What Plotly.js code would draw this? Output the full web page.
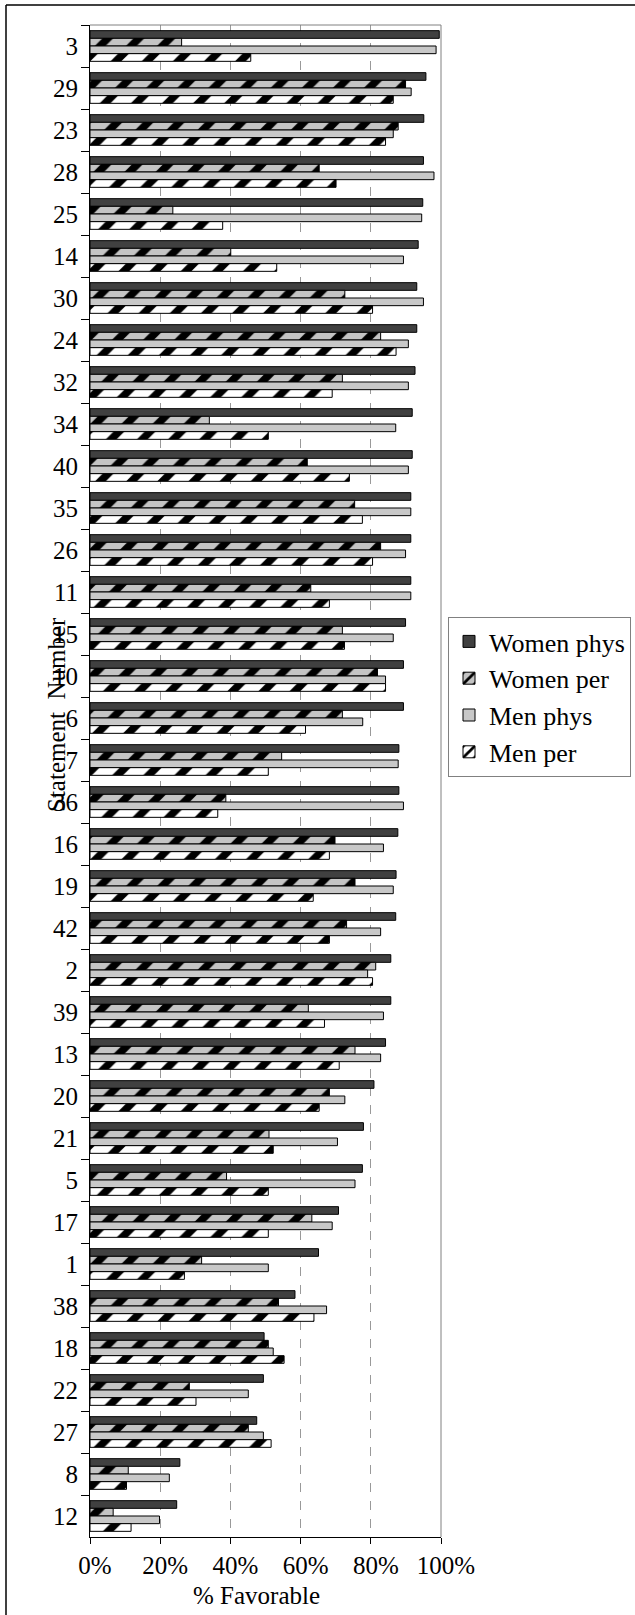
<!DOCTYPE html>
<html>
<head>
<meta charset="utf-8">
<script src="https://cdn.plot.ly/plotly-3.0.1.min.js"></script>
<style>html,body{margin:0;padding:0;background:#fff;}#chart{width:635px;height:1615px;}</style>
</head>
<body>
<div id="chart"></div>
<script>
const statements = ["3","29","23","28","25","14","30","24","32","34","40","35","26","11","15","10","6","7","36","16","19","42","2","39","13","20","21","5","17","1","38","18","22","27","8","12"];
const womenPhys = [99.5,95.7,95.1,95.0,94.8,93.5,93.1,93.1,92.6,91.8,91.8,91.4,91.4,91.4,89.9,89.3,89.3,88.0,88.0,87.7,87.2,87.1,85.7,85.7,84.2,80.9,77.9,77.6,70.8,65.1,58.4,49.6,49.4,47.5,25.6,24.7];
const womenPer  = [26.1,89.9,87.8,65.3,23.6,40.1,72.6,82.8,71.9,34.0,61.9,75.4,82.8,62.9,71.9,81.9,71.9,54.6,38.7,69.8,75.5,73.1,81.4,62.2,75.5,68.2,51.0,38.9,63.2,31.8,53.7,50.8,28.3,45.1,10.9,6.6];
const menPhys   = [98.6,91.5,86.4,98.0,94.5,89.3,95.0,90.7,90.7,87.1,90.7,91.4,89.9,91.4,86.4,84.2,77.7,87.8,89.3,83.6,86.4,82.8,79.1,83.6,82.8,72.6,70.5,75.5,69.0,50.8,67.4,52.2,45.1,49.4,22.6,19.8];
const menPer    = [45.8,86.4,84.2,70.1,37.8,53.2,80.5,87.2,69.0,50.8,73.9,77.6,80.5,68.2,72.5,84.2,61.4,50.8,36.4,68.2,63.6,68.2,80.5,66.8,71.0,65.3,52.2,50.8,50.8,26.9,63.8,55.3,30.2,51.6,10.4,11.7];
const seriesNames = ["Women phys","Women per","Men phys","Men per"];
const xTicks = [0,20,40,60,80,100];

const FONT = "Liberation Serif, Times New Roman, serif";
const outline = {color:"#000", width:1};
const traces = [
  {name:seriesNames[0], x:womenPhys, marker:{color:"#404040", line:outline}},
  {name:seriesNames[1], x:womenPer, marker:{color:"#c4c4c4", line:outline,
     pattern:{shape:"/", bgcolor:"#c4c4c4", fgcolor:"#000", size:22, solidity:0.35}}},
  {name:seriesNames[2], x:menPhys, marker:{color:"#c8c8c8", line:outline}},
  {name:seriesNames[3], x:menPer, marker:{color:"#ffffff", line:outline,
     pattern:{shape:"/", bgcolor:"#ffffff", fgcolor:"#000", size:22, solidity:0.35}}}
].map(t => Object.assign({type:"bar", orientation:"h", y:statements, hoverinfo:"x+name"}, t));

const px2x = p => (p-90)/351;
const py2y = p => (1537-p)/1512;

const layout = {
  width:635, height:1615,
  margin:{l:90, r:194, t:25, b:78},
  paper_bgcolor:"#fff", plot_bgcolor:"#fff",
  font:{family:FONT, size:25, color:"#000"},
  barmode:"group", bargap:0.27, bargroupgap:0,
  showlegend:true,
  legend:{xref:"container", yref:"container", x:448/635, y:1-617/1615, xanchor:"left", yanchor:"top",
          bordercolor:"#808080", borderwidth:1, bgcolor:"#fff", traceorder:"normal",
          font:{family:FONT, size:26, color:"#000"}, itemwidth:30},
  xaxis:{range:[0,100], tickvals:xTicks, ticktext:xTicks.map(v=>v+"%"), showgrid:true,
         gridcolor:"#999", griddash:"dash", gridwidth:1, zeroline:false,
         showline:true, linecolor:"#000", linewidth:1, ticks:"outside", ticklen:6, tickcolor:"#000",
         ticklabelshift:5, tickfont:{family:FONT, size:25}},
  yaxis:{type:"category", autorange:"reversed", showgrid:false, zeroline:false,
         showline:true, linecolor:"#000", linewidth:1, ticks:"outside", ticklen:8, tickcolor:"#000",
         tickson:"boundaries", ticklabelstandoff:6, tickfont:{family:FONT, size:25}},
  shapes:[
    {type:"line", xref:"paper", yref:"paper", x0:0, x1:1, y0:1, y1:1, line:{color:"#808080", width:1}},
    {type:"line", xref:"paper", yref:"paper", x0:1, x1:1, y0:0, y1:1, line:{color:"#808080", width:1}},
    {type:"line", xref:"paper", yref:"paper", x0:px2x(6), x1:px2x(6), y0:py2y(5), y1:py2y(1615), line:{color:"#000", width:1.5}},
    {type:"line", xref:"paper", yref:"paper", x0:px2x(6), x1:px2x(635), y0:py2y(5), y1:py2y(5), line:{color:"#000", width:1.5}}
  ],
  annotations:[
    {text:"Statement  Number", xref:"paper", yref:"paper", x:px2x(56), y:py2y(715), textangle:-90,
     showarrow:false, xanchor:"center", yanchor:"middle", font:{family:FONT, size:25, color:"#000"}},
    {text:"% Favorable", xref:"paper", yref:"paper", x:px2x(256), y:py2y(1595),
     showarrow:false, xanchor:"center", yanchor:"middle", font:{family:FONT, size:25, color:"#000"}}
  ]
};

Plotly.newPlot("chart", traces, layout, {staticPlot:true, displayModeBar:false});
</script>
</body>
</html>
